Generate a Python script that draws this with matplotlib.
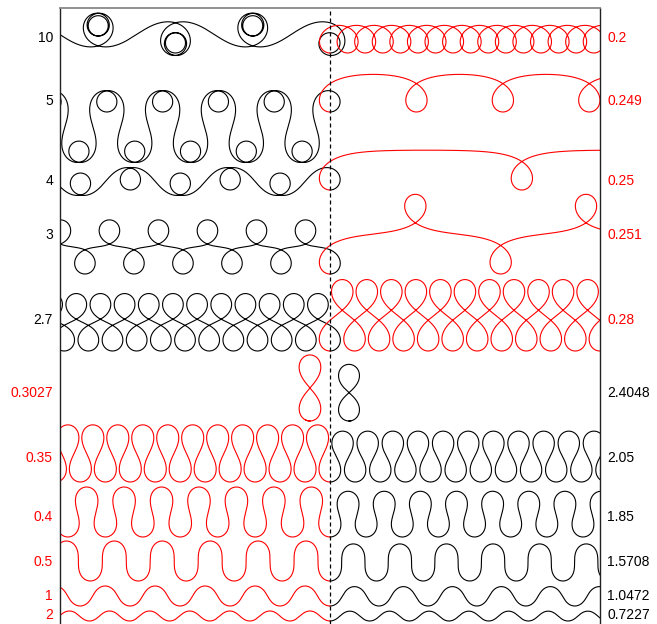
import numpy as np
import matplotlib
matplotlib.use("Agg")
import matplotlib.pyplot as plt

# ---------------- data ----------------
# black family: tangent angle theta(s) = a*sin(s/a)
black_a = [10, 5, 4, 3, 2.7, 2.4048, 2.05, 1.85, 1.5708, 1.0472, 0.7227]
# red family: elastica theta'' = -lambda*sin(theta), theta(0)=0, theta'(0)=1
red_lambda = [0.2, 0.249, 0.25, 0.251, 0.28, 0.3027, 0.35, 0.4, 0.5, 1, 2]
# value actually integrated (the separatrix row needs a hair below 0.25 to loop)
red_lambda_sim = [0.2, 0.249, 0.249995, 0.251, 0.28, 0.3027, 0.35, 0.4, 0.5, 1, 2]
black_on_left = [True, True, True, True, True, False, False, False, False, False, False]

# ---------------- layout ----------------
row_y0 = [-5.3, -11.2, -19.0, -27.4, -35.1, -42.1, -48.2, -53.7, -58.1, -60.6, -62.1]
label_y = [-3.8, -10.1, -18.1, -23.5, -32.0, -39.3, -45.8, -51.7, -56.2, -59.6, -61.5]
black_dx = [0, 0, 0, 0, 0, 1.9, 0, 0, 0, 0, 0]
red_dx = [0, 0, 0, 0, 0, -2.0, 0, 0, 0, 0, 0]
black_len = [400, 400, 400, 400, 400, 15.3, 400, 400, 400, 400, 400]
red_len = [400, 400, 400, 400, 400, 17.3, 400, 400, 400, 400, 400]

H = 0.01


def cumtrap(v, h):
    return np.concatenate([[0.0], np.cumsum(0.5 * (v[1:] + v[:-1]) * h)])


def black_curve(a, L):
    s = np.arange(0, L + H, H)
    th = a * np.sin(s / a)
    return cumtrap(np.cos(th), H), cumtrap(np.sin(th), H)


def red_curves(lams, L):
    lam = np.asarray(lams, float)
    n = int(round(L / H))
    th = np.zeros_like(lam)
    om = np.ones_like(lam)
    out = np.empty((n + 1, lam.size))
    out[0] = th
    h = H
    for i in range(n):
        k1t = om
        k1o = -lam * np.sin(th)
        k2t = om + 0.5 * h * k1o
        k2o = -lam * np.sin(th + 0.5 * h * k1t)
        k3t = om + 0.5 * h * k2o
        k3o = -lam * np.sin(th + 0.5 * h * k2t)
        k4t = om + h * k3o
        k4o = -lam * np.sin(th + h * k3t)
        th = th + h / 6 * (k1t + 2 * k2t + 2 * k3t + k4t)
        om = om + h / 6 * (k1o + 2 * k2o + 2 * k3o + k4o)
        out[i + 1] = th
    res = []
    for j in range(lam.size):
        t = out[:, j]
        res.append((cumtrap(np.cos(t), h), cumtrap(np.sin(t), h)))
    return res


fig = plt.figure(figsize=(6.57, 6.24), dpi=100)
ax = fig.add_axes([60 / 657, 0, 540 / 657, 616 / 624])
ax.set_xlim(-27, 27)
ax.set_ylim(-62.4, -0.8)
ax.set_xticks([])
ax.set_yticks([])
for side in ["left", "right"]:
    ax.spines[side].set_color("#222222")
    ax.spines[side].set_linewidth(1.0)
ax.spines["top"].set_color("#888888")
ax.spines["top"].set_linewidth(1.3)
ax.spines["bottom"].set_visible(False)

reds = red_curves(red_lambda_sim, max(red_len))

for i in range(len(black_a)):
    bx, by = black_curve(black_a[i], black_len[i])
    ax.plot(bx + black_dx[i], by + row_y0[i], color="black", lw=0.8)
    rx, ry = reds[i]
    m = int(round(red_len[i] / H)) + 1
    ax.plot(-rx[:m] + red_dx[i], ry[:m] + row_y0[i], color="red", lw=0.8)

ax.axvline(0, color="black", lw=0.9, dashes=(3.2, 2.4))

font = dict(family=["Liberation Sans", "DejaVu Sans"], fontsize=10)
for i in range(len(black_a)):
    bl = f"{black_a[i]:g}"
    rl = f"{red_lambda[i]:g}"
    if black_on_left[i]:
        left_txt, left_col, right_txt, right_col = bl, "black", rl, "red"
    else:
        left_txt, left_col, right_txt, right_col = rl, "red", bl, "black"
    ax.annotate(left_txt, xy=(0, label_y[i]), xycoords=("axes fraction", "data"),
                xytext=(-7, 0), textcoords="offset pixels", ha="right", va="center",
                color=left_col, annotation_clip=False, **font)
    ax.annotate(right_txt, xy=(1, label_y[i]), xycoords=("axes fraction", "data"),
                xytext=(7, 0), textcoords="offset pixels", ha="left", va="center",
                color=right_col, annotation_clip=False, **font)

fig.savefig("out.png", dpi=100)
